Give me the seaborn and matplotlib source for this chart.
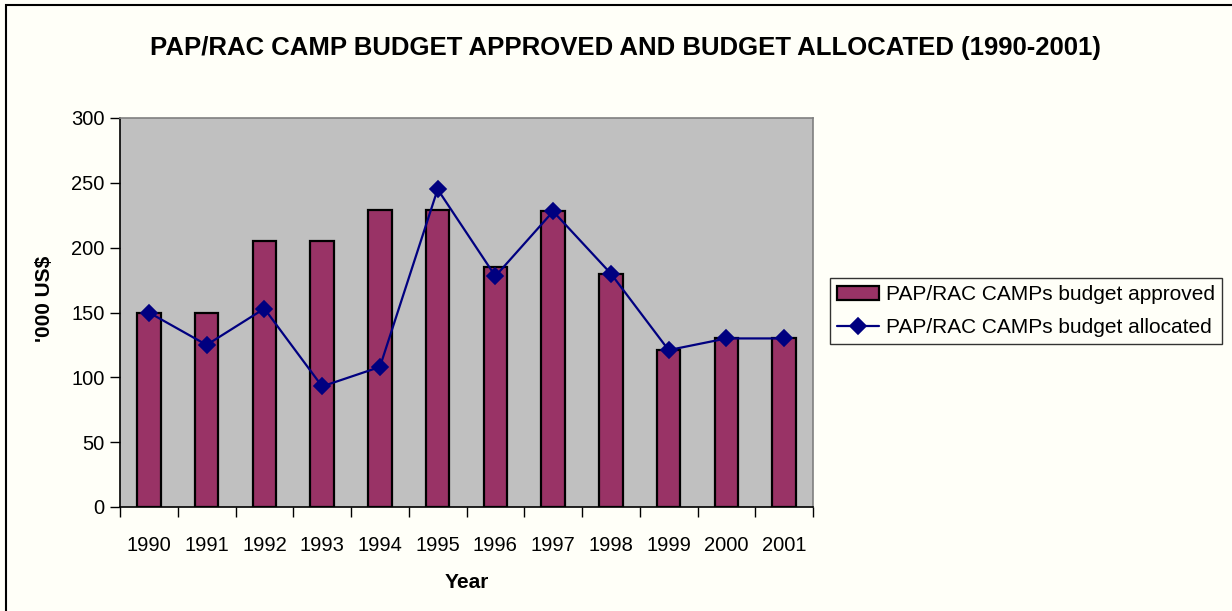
import matplotlib
matplotlib.use("Agg")
import matplotlib.pyplot as plt
import seaborn as sns
import pandas as pd
from matplotlib.patches import Rectangle

years = ["1990", "1991", "1992", "1993", "1994", "1995", "1996", "1997", "1998", "1999", "2000", "2001"]
approved = [150, 150, 205, 205, 229, 229, 185, 228, 180, 121, 130, 130]
allocated = [150, 125, 153, 93, 108, 245, 178, 228, 180, 121, 130, 130]
yticks = [0, 50, 100, 150, 200, 250, 300]

sns.set_theme(style="white")
plt.rcParams['font.family'] = ['Liberation Sans', 'DejaVu Sans']
plt.rcParams.update({"text.color": "black", "xtick.color": "black", "ytick.color": "black",
                     "axes.labelcolor": "black"})

df = pd.DataFrame({"Year": years, "approved": approved, "allocated": allocated})

W, H = 1232, 611
fig = plt.figure(figsize=(W / 100, H / 100), dpi=100, facecolor="#FFFFF8")
ax = fig.add_axes([120 / W, 1 - 507 / H, (813 - 120) / W, (507 - 118) / H])
ax.set_facecolor("#C0C0C0")

sns.barplot(data=df, x="Year", y="approved", color="#993366", saturation=1,
            width=0.41, edgecolor="black", linewidth=1.6, ax=ax,
            label="PAP/RAC CAMPs budget approved", zorder=2)
sns.pointplot(data=df, x="Year", y="allocated", color="#000080", markers="D",
              linestyles="-", markersize=8.5, linewidth=1.6, ax=ax,
              label="PAP/RAC CAMPs budget allocated", zorder=3)

ax.set_xlim(-0.5, len(years) - 0.5)
ax.set_ylim(0, 300)
ax.set_yticks(yticks)
ax.set_yticklabels([str(v) for v in yticks], fontsize=14.5)
ax.set_xticks(range(len(years)))
ax.set_xticklabels(years, fontsize=14.5)
ax.set_xticks([i - 0.5 for i in range(len(years) + 1)], minor=True)
ax.tick_params(axis="x", which="major", length=0, pad=21, colors="black")
ax.tick_params(axis="x", which="minor", length=7, width=1, color="black", direction="out", bottom=True)
ax.tick_params(axis="y", which="major", length=7, width=1, color="black", direction="out", left=True, pad=4)
ax.set_xlabel("")
ax.set_ylabel("")

for side in ["left", "bottom"]:
    ax.spines[side].set_color("black")
    ax.spines[side].set_linewidth(1.2)
for side in ["top", "right"]:
    ax.spines[side].set_color("#808080")
    ax.spines[side].set_linewidth(1.2)
    ax.spines[side].set_visible(True)

fig.text(625 / W, 1 - 48 / H, "PAP/RAC CAMP BUDGET APPROVED AND BUDGET ALLOCATED (1990-2001)",
         ha="center", va="center", fontsize=18.5, fontweight="bold", color="black")
fig.text(467 / W, 1 - 583 / H, "Year", ha="center", va="center", fontsize=15, fontweight="bold",
         color="black")
fig.text(44 / W, 1 - 299 / H, "'000 US$", ha="center", va="center", rotation=90,
         fontsize=15, fontweight="bold", color="black")

handles, labels = ax.get_legend_handles_labels()
if ax.get_legend() is not None:
    ax.get_legend().remove()
order = [labels.index("PAP/RAC CAMPs budget approved"), labels.index("PAP/RAC CAMPs budget allocated")]
leg = fig.legend([handles[i] for i in order], [labels[i] for i in order], loc="upper left",
                 bbox_to_anchor=(830 / W, 1 - 278 / H), fontsize=15,
                 frameon=True, fancybox=False, edgecolor="black", facecolor="#FFFFF8",
                 borderpad=0.35, handlelength=2.0, handletextpad=0.33, labelspacing=0.65,
                 borderaxespad=0)
leg.get_frame().set_linewidth(1.0)
for t in leg.get_texts():
    t.set_color("black")

fig.patches.append(Rectangle((6 / W, -0.1), 1.2, 1.1 - 5 / H, transform=fig.transFigure,
                             fill=False, edgecolor="black", linewidth=1.5))

fig.savefig("out.png", dpi=100, facecolor=fig.get_facecolor())
